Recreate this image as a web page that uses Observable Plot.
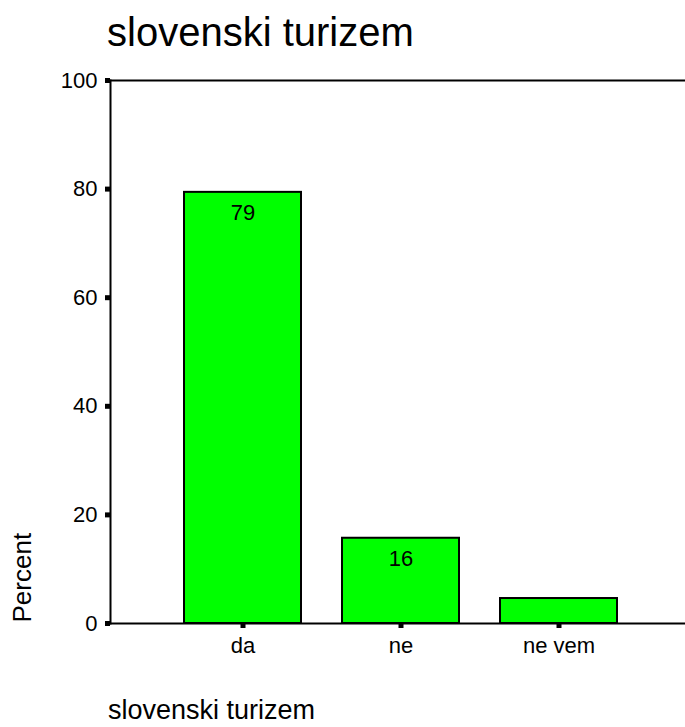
<!DOCTYPE html>
<html>
<head>
<meta charset="utf-8">
<script src="https://cdn.jsdelivr.net/npm/d3@7"></script>
<script src="https://cdn.jsdelivr.net/npm/@observablehq/plot@0.6"></script>
<style>
  html, body { margin: 0; padding: 0; background: #fff; overflow: hidden; }
  body { width: 685px; height: 727px; font-family: "Liberation Sans", Arial, sans-serif; color: #000; }
  #title { box-sizing: border-box; height: 60px; padding: 12px 0 0 107px; font-size: 40px; line-height: 40px; white-space: nowrap; }
  #caption { box-sizing: border-box; height: 42px; padding: 10px 0 0 108px; font-size: 27px; line-height: 30px; white-space: nowrap; }
  #chart svg { display: block; }
</style>
</head>
<body>
<div id="title"></div>
<div id="chart"></div>
<div id="caption"></div>
<script>
const titleText = "slovenski turizem";
const captionText = "slovenski turizem";
const yLabel = "Percent";
const categories = ["da", "ne", "ne vem"];
const percents = [79.4, 15.7, 4.6];
const barLabels = ["79", "16", ""];
const yTicks = [0, 20, 40, 60, 80, 100];

const data = categories.map((c, i) => ({cat: c, value: percents[i], label: barLabels[i]}));

document.getElementById("title").textContent = titleText;
document.getElementById("caption").textContent = captionText;

const chart = Plot.plot({
  width: 685,
  height: 625,
  marginTop: 20,
  marginBottom: 62,
  marginLeft: 110,
  marginRight: 0,
  style: {fontFamily: "'Liberation Sans', Arial, sans-serif", color: "#000", background: "#fff"},
  x: {domain: categories, paddingInner: 0.26, paddingOuter: 0.44, align: 0.52, label: null},
  y: {domain: [0, 100], label: null},
  marks: [
    Plot.barY(data, {x: "cat", y: "value", fill: "#00ff00", stroke: "#000", strokeWidth: 2}),
    Plot.text(data, {x: "cat", y: "value", text: "label", lineAnchor: "top", dy: 12, fontSize: 22, fill: "#000"}),
    Plot.ruleY([0, 100], {stroke: "#000", strokeWidth: 2}),
    Plot.frame({anchor: "left", stroke: "#000", strokeWidth: 2}),
    Plot.axisY({ticks: yTicks, tickSize: 5, tickPadding: 8, strokeWidth: 5, fontSize: 22, label: null, stroke: "#000"}),
    Plot.axisX({tickSize: 5, tickPadding: 9, strokeWidth: 5, fontSize: 22, label: null, stroke: "#000"}),
    Plot.text([yLabel], {frameAnchor: "bottom-left", rotate: -90, textAnchor: "start", dx: -80, dy: -1, fontSize: 26, fill: "#000"})
  ]
});
document.getElementById("chart").appendChild(chart);
</script>
</body>
</html>
